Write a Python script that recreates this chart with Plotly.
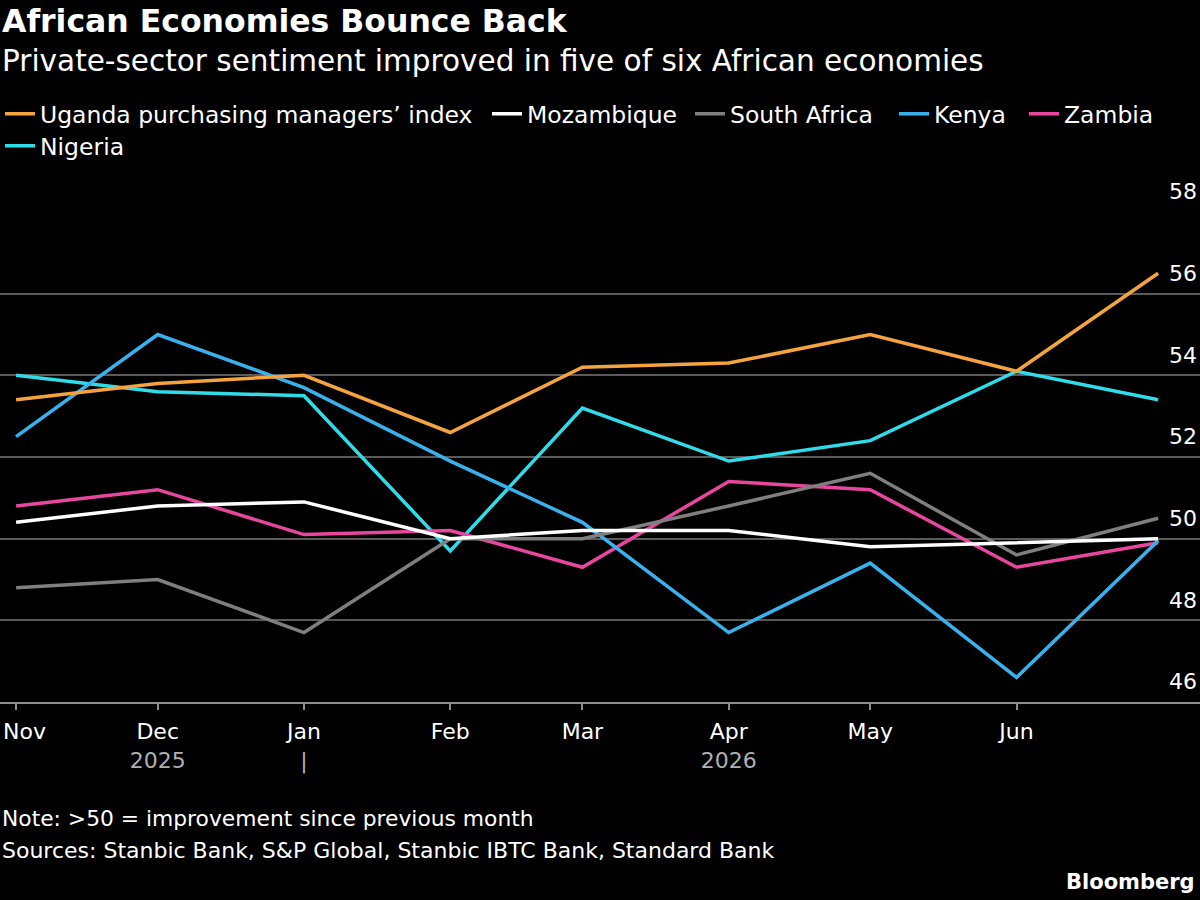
import plotly.graph_objects as go

# ---- data ----
dates = ["2025-11-01", "2025-12-01", "2026-01-01", "2026-02-01", "2026-03-01",
         "2026-04-01", "2026-05-01", "2026-06-01", "2026-07-01"]

uganda = [53.4, 53.8, 54.0, 52.6, 54.2, 54.3, 55.0, 54.1, 56.5]
mozambique = [50.4, 50.8, 50.9, 50.0, 50.2, 50.2, 49.8, 49.9, 50.0]
south_africa = [48.8, 49.0, 47.7, 50.0, 50.0, 50.8, 51.6, 49.6, 50.5]
kenya = [52.5, 55.0, 53.7, 51.9, 50.4, 47.7, 49.4, 46.6, 49.95]
zambia = [50.8, 51.2, 50.1, 50.2, 49.3, 51.4, 51.2, 49.3, 49.9]
nigeria = [54.0, 53.6, 53.5, 49.7, 53.2, 51.9, 52.4, 54.1, 53.4]

series_names = ["Uganda purchasing managers\u2019 index", "Mozambique", "South Africa",
                "Kenya", "Zambia", "Nigeria"]
series_values = [uganda, mozambique, south_africa, kenya, zambia, nigeria]
series_colors = ["#F5A33E", "#FFFFFF", "#7F7F7F", "#38B2EE", "#E8469F", "#2FDCEA"]

tick_dates = ["2025-11-01", "2025-12-01", "2026-01-01", "2026-02-01", "2026-03-01",
              "2026-04-01", "2026-05-01", "2026-06-01"]
month_labels = ["Nov", "Dec", "Jan", "Feb", "Mar", "Apr", "May", "Jun"]
year_labels = ["", "2025", "|", "", "", "2026", "", ""]

y_ticks = [46, 48, 50, 52, 54, 56, 58]

title = "African Economies Bounce Back"
subtitle = "Private-sector sentiment improved in five of six African economies"
note = "Note: >50 = improvement since previous month"
source = "Sources: Stanbic Bank, S&P Global, Stanbic IBTC Bank, Standard Bank"

FONT = "DejaVu Sans"
W, H = 1200, 900
TOP, BOTTOM = 212, 702
PH = BOTTOM - TOP


def py(pix):
    return (BOTTOM - pix) / PH


# legend layout: left pixel of each entry and top pixel of its row
legend_x = [0, 487, 690, 894, 1024, 0]
legend_row_top = [92, 92, 92, 92, 92, 124]
legend_ids = ["legend", "legend2", "legend3", "legend4", "legend5", "legend6"]

fig = go.Figure()
# draw first series on top: add in reverse
items = list(zip(series_names, series_values, series_colors, legend_ids))
for name, vals, col, lid in reversed(items):
    fig.add_trace(go.Scatter(x=dates, y=vals, name=name, mode="lines",
                             line=dict(color=col, width=3.5), legend=lid))

# first month label is drawn flush-left as an annotation (as in the reference)
ticktext = []
for i, (m, yl) in enumerate(zip(month_labels, year_labels)):
    lab = "" if i == 0 else m
    if yl:
        lab = f"{lab}<br><span style='color:#B0B0B0'>{yl}</span>"
    ticktext.append(lab)

layout_legends = {}
for lid, lx, ty in zip(legend_ids, legend_x, legend_row_top):
    layout_legends[lid] = dict(orientation="h", x=lx / W, xanchor="left",
                               y=py(ty), yanchor="top",
                               font=dict(size=23.5, color="#FFFFFF"),
                               itemwidth=30, bgcolor="rgba(0,0,0,0)")

fig.update_layout(
    width=W, height=H,
    paper_bgcolor="#000000", plot_bgcolor="#000000",
    margin=dict(l=0, r=0, t=TOP, b=H - BOTTOM, autoexpand=False),
    font=dict(family=FONT, color="#FFFFFF"),
    showlegend=True,
    xaxis=dict(type="date", range=["2025-10-28 14:00", "2026-07-09 21:00"],
               tickvals=tick_dates, ticktext=ticktext, ticklabeloverflow="allow",
               automargin=False,
               showgrid=False, zeroline=False,
               showline=True, linecolor="#8C8C8C", linewidth=2,
               ticks="outside", ticklen=6, tickwidth=2, tickcolor="#8C8C8C",
               ticklabelstandoff=3,
               tickfont=dict(size=22, color="#FFFFFF")),
    yaxis=dict(range=[46, 58], tickvals=y_ticks, side="right",
               ticklabelposition="inside top", ticklabeloverflow="allow",
               ticklabelshift=-5, automargin=False,
               showgrid=True, gridcolor="#5A5A5A", gridwidth=1.5,
               zeroline=False, showline=False, ticks="",
               tickfont=dict(size=22, color="#FFFFFF")),
    hovermode=False,
    **layout_legends,
)

ann = [
    dict(text=f"<b>{title}</b>", x=0, y=py(21), xanchor="left", yanchor="middle",
         font=dict(size=31.5, color="#FFFFFF")),
    dict(text=subtitle, x=0, y=py(61), xanchor="left", yanchor="middle",
         font=dict(size=29.5, color="#FFFFFF")),
    dict(text=month_labels[0], x=1 / W, y=py(731), xanchor="left", yanchor="middle",
         font=dict(size=22, color="#FFFFFF")),
    dict(text=note, x=0, y=py(818), xanchor="left", yanchor="middle",
         font=dict(size=21.8, color="#FFFFFF")),
    dict(text=source, x=0, y=py(851), xanchor="left", yanchor="middle",
         font=dict(size=22, color="#FFFFFF")),
    dict(text="<b>Bloomberg</b>", x=1197 / W, y=py(882), xanchor="right",
         yanchor="middle", font=dict(size=21, color="#FFFFFF")),
]
for a in ann:
    a.update(xref="paper", yref="paper", showarrow=False)
fig.update_layout(annotations=ann)

fig.write_html("out.html")
